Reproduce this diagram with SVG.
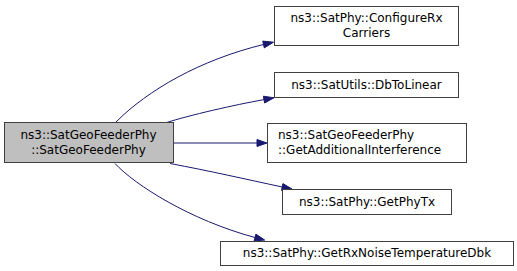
<svg xmlns="http://www.w3.org/2000/svg" width="517" height="271" viewBox="0 0 517 271">
  <style>
    .node rect { fill: #ffffff; stroke: #404040; stroke-width: 1; }
    .node.root rect { fill: #bfbfbf; }
    .node text { font-family: "DejaVu Sans", sans-serif; font-size: 12px; fill: #000000; }
    .mid { text-anchor: middle; }
    .edge path { fill: none; stroke: #191970; stroke-width: 1; }
    .edge polygon { fill: #191970; stroke: #191970; stroke-width: 1; }
  </style>
  <rect width="517" height="271" fill="#ffffff"/>

  <!-- calls from the constructor -->
  <g id="edges">
    <g class="edge">
      <path d="M116,122 C148,90 200,60 263.5,44.5"/>
      <polygon points="264.3,47.9 273.5,42.2 262.7,41.1"/>
    </g>
    <g class="edge">
      <path d="M165,123 C190,115 234.5,104.9 264,99.6"/>
      <polygon points="264.6,103 274,97.8 263.4,96.2"/>
    </g>
    <g class="edge">
      <path d="M173.5,143 L257,143"/>
      <polygon points="257,146.5 267,143 257,139.5"/>
    </g>
    <g class="edge">
      <path d="M170,163.5 C210,171 245,179 282.2,187"/>
      <polygon points="281.5,190.4 292,189 282.9,183.6"/>
    </g>
    <g class="edge">
      <path d="M115,163.5 C135,185 190,220 255,237.5"/>
      <polygon points="254.1,240.9 264.7,240.1 255.9,234.1"/>
    </g>
  </g>

  <g id="node-root" class="node root">
    <rect x="4.5" y="122.5" width="169" height="40"/>
    <text class="mid" x="88.5" y="139">ns3::SatGeoFeederPhy</text>
    <text class="mid" x="88.5" y="153.5">::SatGeoFeederPhy</text>
  </g>

  <g id="node-configure-rx-carriers" class="node">
    <rect x="274.5" y="6.5" width="184" height="39"/>
    <text class="mid" x="366.5" y="22">ns3::SatPhy::ConfigureRx</text>
    <text class="mid" x="366.5" y="36.5">Carriers</text>
  </g>

  <g id="node-db-to-linear" class="node">
    <rect x="274.5" y="72.5" width="184" height="25"/>
    <text class="mid" x="366.5" y="89">ns3::SatUtils::DbToLinear</text>
  </g>

  <g id="node-get-additional-interference" class="node">
    <rect x="267.5" y="123.5" width="199" height="39"/>
    <text x="278" y="139">ns3::SatGeoFeederPhy</text>
    <text x="278" y="153.5">::GetAdditionalInterference</text>
  </g>

  <g id="node-get-phy-tx" class="node">
    <rect x="282.5" y="189.5" width="169" height="25"/>
    <text class="mid" x="367" y="205.5">ns3::SatPhy::GetPhyTx</text>
  </g>

  <g id="node-get-rx-noise-temperature-dbk" class="node">
    <rect x="220.5" y="241.5" width="293" height="24"/>
    <text class="mid" x="367" y="257">ns3::SatPhy::GetRxNoiseTemperatureDbk</text>
  </g>
</svg>
